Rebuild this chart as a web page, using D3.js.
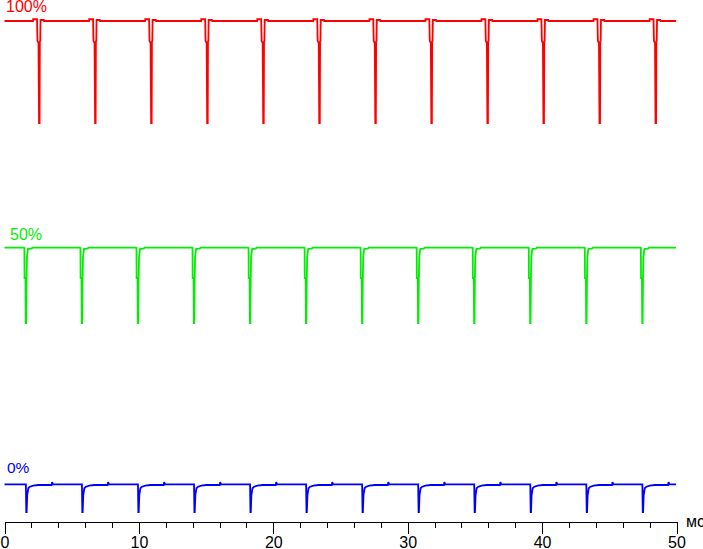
<!DOCTYPE html>
<html><head><meta charset="utf-8">
<script src="https://cdn.jsdelivr.net/npm/d3@7"></script>
<style>
html,body{margin:0;padding:0;background:#fff;}
svg{display:block;}
text{font-family:"Liberation Sans",Arial,sans-serif;}
</style></head>
<body>
<script>
// ---- data (time in ms, brightness in arbitrary units) ----
const seriesNames = ["100%", "50%", "0%"];
const seriesColors = ["#ff0000", "#00ee00", "#0000ff"];
const timeStart = 0, timeEnd = 49.97;
const xTickValues = [0, 10, 20, 30, 40, 50];
const xUnit = "мс";

const redBase = 100;
const redDips = [2.57, 6.74, 10.91, 15.08, 19.25, 23.42, 27.59, 31.76, 35.93, 40.10, 44.27, 48.44];
const redProfile = [[-0.45,100],[-0.44,100.35],[-0.15,100.35],[-0.12,96.0],[-0.04,95.6],[0,79.6],[0.04,79.6],[0.06,95.8],[0.09,96.2],[0.11,100.2],[0.35,100.2],[0.37,100]];

const greenBase = 54.66;
const greenDips = [1.58, 5.75, 9.92, 14.09, 18.26, 22.43, 26.60, 30.77, 34.94, 39.11, 43.28, 47.45];
const greenProfile = [[-0.13,54.66],[-0.10,54.6],[-0.09,48.6],[-0.02,48.6],[0,39.6],[0.03,39.6],[0.06,48.6],[0.09,52.8],[0.16,54.4],[0.45,54.5],[0.5,54.66]];

const blueBase = 7.34;
const blueDips = [1.62, 5.79, 9.96, 14.13, 18.30, 22.47, 26.64, 30.81, 34.98, 39.15, 43.32, 47.49];
const blueProfile = [[-0.03,7.34],[0,1.8],[0.025,1.8],[0.07,5.2],[0.15,6.54],[0.27,6.86],[0.52,7.06],[0.9,7.2],[1.88,7.2],[1.92,7.78],[1.97,7.34]];

// ---- layout ----
const W = 703, H = 549;
const x = d3.scaleLinear().domain([0, 50]).range([4.5, 676.5]);
const y = d3.scaleLinear().domain([0, 100]).range([521, 21]);

function buildSeries(base, dips, profile) {
  const pts = [[timeStart, base]];
  dips.forEach(t0 => profile.forEach(p => pts.push([t0 + p[0], p[1]])));
  pts.push([timeEnd, base]);
  return pts;
}
const series = [
  buildSeries(redBase, redDips, redProfile),
  buildSeries(greenBase, greenDips, greenProfile),
  buildSeries(blueBase, blueDips, blueProfile)
];
const labelPos = [[6, 12, 16], [10, 240, 16], [7, 473, 15.5]];

const svg = d3.select("body").append("svg").attr("width", W).attr("height", H);

const line = d3.line().x(d => x(d[0])).y(d => y(d[1]));
series.forEach((s, i) => {
  svg.append("path").datum(s)
    .attr("d", line)
    .attr("fill", "none")
    .attr("stroke", seriesColors[i])
    .attr("stroke-width", 1.8)
    .attr("stroke-linejoin", "miter");
  svg.append("text")
    .attr("x", labelPos[i][0]).attr("y", labelPos[i][1])
    .attr("font-size", labelPos[i][2])
    .attr("fill", seriesColors[i])
    .text(seriesNames[i]);
});

// axis
const axisY = 521.5;
const gMinor = svg.append("g").attr("transform", `translate(0,${axisY})`)
  .call(d3.axisBottom(x).tickValues(d3.range(0, 51, 2)).tickSize(6).tickSizeOuter(0).tickFormat(""));
const gMajor = svg.append("g").attr("transform", `translate(0,${axisY})`)
  .call(d3.axisBottom(x).tickValues(xTickValues).tickSize(12).tickSizeOuter(0).tickPadding(3).tickFormat(d3.format("d")));
[gMinor, gMajor].forEach(g => {
  g.selectAll("path,line").attr("stroke", "#000").attr("stroke-width", 1).attr("shape-rendering", "crispEdges");
});
gMajor.selectAll("text").attr("font-size", 16).attr("fill", "#000")
  .attr("font-family", '"Liberation Sans",Arial,sans-serif');
svg.append("text").attr("x", 686).attr("y", 527).attr("font-size", 16).attr("fill", "#000").text(xUnit);
</script>
</body></html>
